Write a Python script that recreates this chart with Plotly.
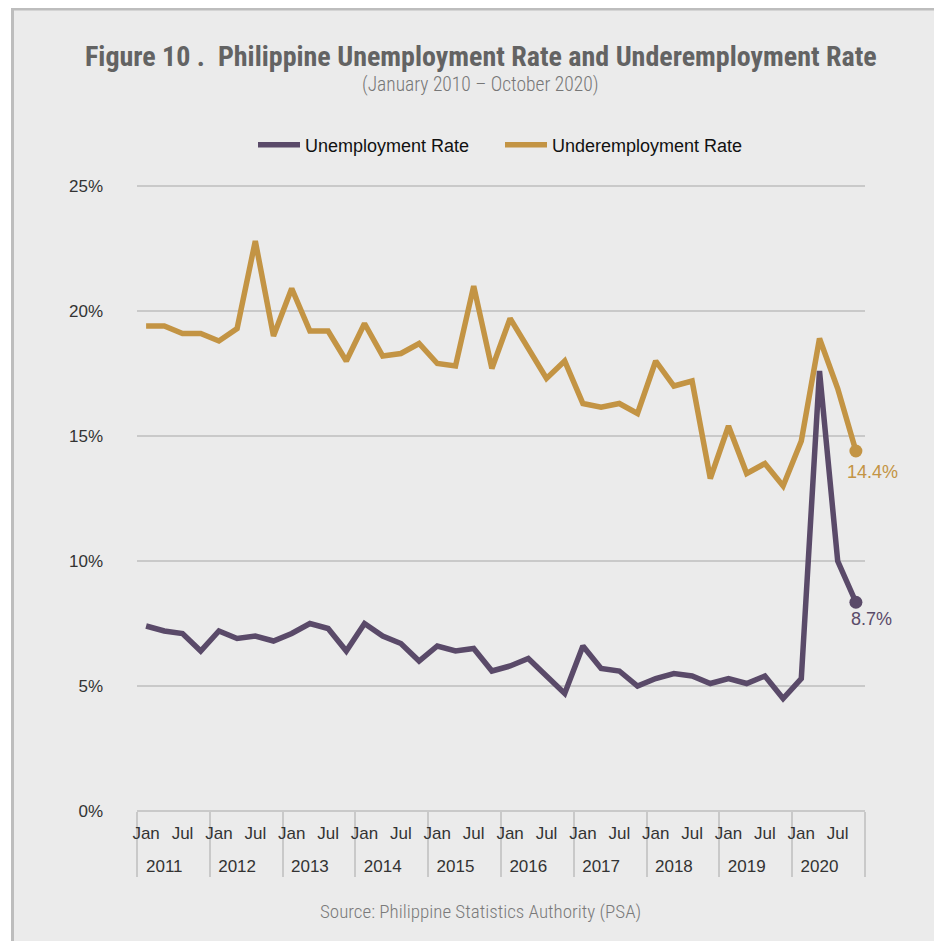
import plotly.graph_objects as go

# ---------------- data ----------------
YEARS = ["2011", "2012", "2013", "2014", "2015", "2016", "2017", "2018", "2019", "2020"]
MONTH_LABELS = ["Jan", " ", "Jul", "  "]  # Jan, Apr (blank), Jul, Oct (blank)

UNEMPLOYMENT = [
    7.4, 7.2, 7.1, 6.4,
    7.2, 6.9, 7.0, 6.8,
    7.1, 7.5, 7.3, 6.4,
    7.5, 7.0, 6.7, 6.0,
    6.6, 6.4, 6.5, 5.6,
    5.8, 6.1, 5.4, 4.7,
    6.6, 5.7, 5.6, 5.0,
    5.3, 5.5, 5.4, 5.1,
    5.3, 5.1, 5.4, 4.5,
    5.3, 17.6, 10.0, 8.35,
]
UNDEREMPLOYMENT = [
    19.4, 19.4, 19.1, 19.1,
    18.8, 19.3, 22.8, 19.0,
    20.9, 19.2, 19.2, 18.0,
    19.5, 18.2, 18.3, 18.7,
    17.9, 17.8, 21.0, 17.7,
    19.7, 18.5, 17.3, 18.0,
    16.3, 16.15, 16.3, 15.9,
    18.0, 17.0, 17.2, 13.3,
    15.4, 13.5, 13.9, 13.0,
    14.8, 18.9, 16.9, 14.4,
]
END_LABELS = {"Unemployment Rate": "8.7%", "Underemployment Rate": "14.4%"}
Y_TICKS = [0, 5, 10, 15, 20, 25]
Y_TICK_LABELS = ["0%", "5%", "10%", "15%", "20%", "25%"]

TITLE = "Figure 10 .\u00a0 Philippine Unemployment Rate and Underemployment Rate"
SUBTITLE = "(January 2010 \u2013 October 2020)"
SOURCE = "Source: Philippine Statistics Authority (PSA)"

# ---------------- styling ----------------
PURPLE = "#5A4A69"
GOLD = "#C39444"
BG = "#EBEBEB"
GRID = "#C9C9C9"
TICK_FONT = "Liberation Sans, Arial, sans-serif"
COND_FONT = "Roboto Condensed, DejaVu Sans Condensed, sans-serif"

# year row pushed one line lower to open the gap between the two label rows
x_year = ["\u00a0<br>" + y for y in YEARS for _ in MONTH_LABELS]
x_month = [m for _ in YEARS for m in MONTH_LABELS]
n = len(x_year)

OFF = 8  # page body margin
W, H = 942 - OFF, 941 - OFF
Y_MAX = 25.12
PW, PH = 728, 628
L = 137 - OFF
T = 811 - OFF - PH
R = W - L - PW
B = H - T - PH


def px(xp):
    """window pixel x -> paper coordinate"""
    return (xp - OFF - L) / PW


def py(yp):
    """window pixel y -> paper coordinate"""
    return (T + PH - (yp - OFF)) / PH


fig = go.Figure()

series = [
    ("Underemployment Rate", UNDEREMPLOYMENT, GOLD),
    ("Unemployment Rate", UNEMPLOYMENT, PURPLE),
]
for name, vals, col in series:
    fig.add_trace(go.Scatter(
        x=[x_year, x_month], y=vals, name=name,
        mode="lines",
        line=dict(color=col, width=5.5),
        hoverinfo="skip",
    ))
for name, vals, col in series:
    fig.add_trace(go.Scatter(
        x=[[x_year[-1]], [x_month[-1]]], y=[vals[-1]],
        mode="markers", showlegend=False,
        marker=dict(size=13, color=col, opacity=1, line=dict(width=0)),
        hoverinfo="skip",
    ))

label_shift = {"Underemployment Rate": (17, -21), "Unemployment Rate": (16, -17)}
annotations = []
for name, vals, col in series:
    dx, dy = label_shift[name]
    annotations.append(dict(
        x=n - 1, y=vals[-1], xref="x", yref="y", text=END_LABELS[name],
        showarrow=False, xshift=dx, yshift=dy,
        font=dict(family=TICK_FONT, size=18, color=col),
    ))

annotations += [
    dict(x=px(481), y=py(56), xref="paper", yref="paper", text="<b>" + TITLE + "</b>",
         showarrow=False, xanchor="center", yanchor="middle",
         font=dict(family=COND_FONT, size=28, color="#636363")),
    dict(x=px(480), y=py(85), xref="paper", yref="paper", text=SUBTITLE,
         showarrow=False, xanchor="center", yanchor="middle",
         font=dict(family=COND_FONT, size=19.5, color="#777777", weight=300)),
    dict(x=px(480), y=py(911), xref="paper", yref="paper", text=SOURCE,
         showarrow=False, xanchor="center", yanchor="middle",
         font=dict(family=COND_FONT, size=19, color="#7A7A7A", weight=300)),
]

shapes = [
    # white outer margin (left)
    dict(type="rect", xref="paper", yref="paper", x0=px(0), x1=px(11), y0=py(H + OFF + 5), y1=py(0),
         fillcolor="white", line=dict(width=0), layer="below"),
    # frame lines
    dict(type="line", xref="paper", yref="paper", x0=px(12.5), x1=px(W + OFF + 5), y0=py(9), y1=py(9),
         line=dict(color="#BDBDBD", width=3)),
    dict(type="line", xref="paper", yref="paper", x0=px(12.5), x1=px(12.5), y0=py(8), y1=py(H + OFF + 5),
         line=dict(color="#BDBDBD", width=3)),
]

fig.update_layout(
    width=W, height=H,
    margin=dict(l=L, r=R, t=T, b=B, pad=0, autoexpand=False),
    paper_bgcolor=BG, plot_bgcolor=BG,
    showlegend=True,
    legend=dict(orientation="h", x=px(500), y=py(145), xanchor="center", yanchor="middle",
                traceorder="reversed", bgcolor="rgba(0,0,0,0)",
                font=dict(family=TICK_FONT, size=18, color="#111111"),
                itemwidth=42, entrywidth=190, entrywidthmode="pixels", itemclick=False),
    annotations=annotations,
    shapes=shapes,
)

fig.update_xaxes(
    type="multicategory",
    range=[-0.5, n - 0.5],
    showgrid=False, zeroline=False,
    showline=False,
    showdividers=True, dividercolor=GRID, dividerwidth=2,
    tickfont=dict(family=TICK_FONT, size=17, color="#333333"),
    tickangle=0,
    ticks="",
    ticklabelstandoff=10,
)
fig.update_yaxes(
    range=[0, Y_MAX], tickvals=Y_TICKS, ticktext=Y_TICK_LABELS,
    showgrid=True, gridcolor=GRID, gridwidth=2,
    zeroline=True, zerolinecolor=GRID, zerolinewidth=2,
    showline=False, ticks="",
    ticklabelstandoff=33,
    tickfont=dict(family=TICK_FONT, size=17, color="#333333"),
)

fig.write_html("out.html")
